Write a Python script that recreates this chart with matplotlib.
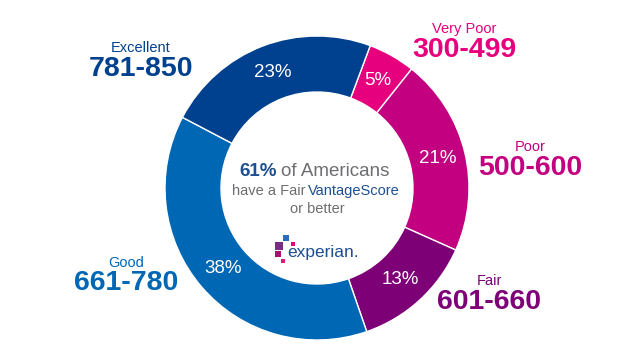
import matplotlib.pyplot as plt

# credit score bands, clockwise from the top
bands = ["Very Poor", "Poor", "Fair", "Good", "Excellent"]
ranges = ["300-499", "500-600", "601-660", "661-780", "781-850"]
shares = [5, 21, 13, 38, 23]
colors = ["#e6007e", "#c3007f", "#7d0077", "#0067b5", "#00418f"]

W, H = 627, 353
fig = plt.figure(figsize=(W / 100, H / 100), dpi=100)
ax = fig.add_axes([0, 0, 1, 1])
plt.rcParams['font.family'] = ['Liberation Sans', 'DejaVu Sans']

cx, cy, r_out, r_in = 317, 188, 152, 96
ax.pie(shares, colors=colors, center=(cx, H - cy), radius=r_out,
       startangle=69.5, counterclock=False,
       wedgeprops=dict(width=r_out - r_in, edgecolor="white", linewidth=1),
       autopct="%d%%", pctdistance=(r_out + r_in) / 2 / r_out,
       textprops=dict(color="white", fontsize=13.5))

ax.set_xlim(0, W)
ax.set_ylim(0, H)
ax.set_aspect('equal')
ax.axis('off')

# outer labels (x centre, y of small name, y of range) in pixels from top
label_pos = [(464, 29, 50), (530, 147, 168), (489, 281, 302),
             (126, 263, 283), (141, 48, 69)]
for name, rng, col, (x, y1, y2) in zip(bands, ranges, colors, label_pos):
    ax.text(x, H - y1, name, color=col, fontsize=10.5, ha='center', va='center')
    ax.text(x, H - y2, rng, color=col, fontsize=20.5, fontweight='bold',
            ha='center', va='center')

# centre text
blue, grey = "#1d4f91", "#6d6e71"
ax.text(277, H - 172, "61%", color=blue, fontsize=13.5, fontweight='bold',
        ha='right', va='center')
ax.text(281, H - 172, "of Americans", color=grey, fontsize=13.5,
        ha='left', va='center')
ax.text(305, H - 191, "have a Fair", color=grey, fontsize=10.5,
        ha='right', va='center')
ax.text(308, H - 191, "VantageScore", color=blue, fontsize=10.5,
        ha='left', va='center')
ax.text(317, H - 209, "or better", color=grey, fontsize=10.5,
        ha='center', va='center')

# experian logo
ax.text(287, H - 257, "experian.", color=blue, fontsize=12.5,
        ha='left', va='baseline')
dot_x = [286, 279, 293, 278, 283]
dot_y = [238, 246, 244, 254, 261]
dot_s = [22, 34, 12, 22, 12]
dot_c = ["#2a6ebb", "#7b2c83", "#e5007e", "#a5126f", "#e4147c"]
ax.scatter(dot_x, [H - y for y in dot_y], s=dot_s, c=dot_c, marker='s',
           linewidths=0)

fig.savefig("out.png", dpi=100)
